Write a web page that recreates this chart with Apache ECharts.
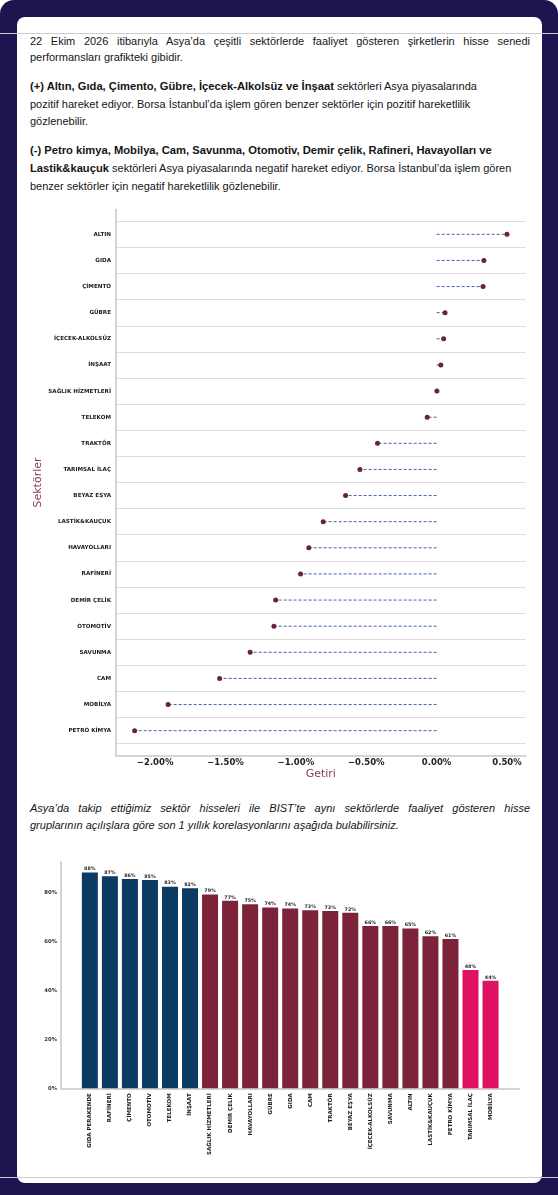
<!DOCTYPE html>
<html>
<head>
<meta charset="utf-8">
<script src="https://cdn.jsdelivr.net/npm/echarts@6/dist/echarts.min.js"></script>
<style>
  html, body { margin: 0; padding: 0; background: #fff; }
  #frame { position: absolute; left: 0; top: 0; width: 558px; height: 1195px; background: #1e1450; border-radius: 14px 14px 0 0; overflow: hidden; }
  #panel { position: absolute; left: 17px; top: 17px; width: 525px; height: 1166px; background: #fff; border-radius: 8px; }
  .rule { position: absolute; left: 0; width: 558px; height: 1px; background: #cbcbd4; }
  .txt { position: absolute; left: 30px; width: 500px; margin: 0; font-family: "Liberation Sans", Arial, sans-serif; font-size: 11px; color: #151515; }
  .txt b { font-size: 11.2px; }
  .line-j { display: block; text-align: justify; text-align-last: justify; }
  .chart { position: absolute; left: 0; width: 558px; }
</style>
</head>
<body>
<div id="frame">
  <div id="panel"></div>
  <div class="rule" style="top:33px"></div>
  <div class="rule" style="top:1177px"></div>

  <p class="txt" style="top:33px; line-height:16px; text-align:justify;">22 Ekim 2026 itibarıyla Asya’da çeşitli sektörlerde faaliyet gösteren şirketlerin hisse senedi performansları grafikteki gibidir.</p>
  <p class="txt" style="top:78px; line-height:17.5px;"><b>(+) Altın, Gıda, Çimento, Gübre, İçecek-Alkolsüz ve İnşaat</b> sektörleri Asya piyasalarında<br>pozitif hareket ediyor. Borsa İstanbul’da işlem gören benzer sektörler için pozitif hareketlilik<br>gözlenebilir.</p>
  <p class="txt" style="top:141px; line-height:18px;"><b>(-) Petro kimya, Mobilya, Cam, Savunma, Otomotiv, Demir çelik, Rafineri, Havayolları ve<br>Lastik&amp;kauçuk</b> sektörleri Asya piyasalarında negatif hareket ediyor. Borsa İstanbul’da işlem gören<br>benzer sektörler için negatif hareketlilik gözlenebilir.</p>

  <div id="lollipop" class="chart" style="top:195px; height:600px;"></div>

  <p class="txt" style="top:800px; line-height:17px; font-style:italic;"><span class="line-j">Asya’da takip ettiğimiz sektör hisseleri ile BIST’te aynı sektörlerde faaliyet gösteren hisse</span>gruplarının açılışlara göre son 1 yıllık korelasyonlarını aşağıda bulabilirsiniz.</p>

  <div id="bars" class="chart" style="top:850px; height:330px;"></div>
</div>

<script>
// ********
// * Data *
// ********

// Daily return of Asian sector stocks (%), top to bottom
const sectors = ["ALTIN", "GIDA", "ÇİMENTO", "GÜBRE", "İÇECEK-ALKOLSÜZ", "İNŞAAT", "SAĞLIK HİZMETLERİ",
  "TELEKOM", "TRAKTÖR", "TARIMSAL İLAÇ", "BEYAZ EŞYA", "LASTİK&KAUÇUK", "HAVAYOLLARI", "RAFİNERİ",
  "DEMİR ÇELİK", "OTOMOTİV", "SAVUNMA", "CAM", "MOBİLYA", "PETRO KİMYA"];
const returns = [0.50, 0.336, 0.33, 0.06, 0.05, 0.03, 0.002, -0.067, -0.42, -0.545, -0.647, -0.806,
  -0.908, -0.967, -1.144, -1.156, -1.325, -1.542, -1.908, -2.146];
const returnTicks = [-2.0, -1.5, -1.0, -0.5, 0.0, 0.5];

// 1-year correlation with BIST sector groups (%)
const corrSectors = ["GIDA PERAKENDE", "RAFİNERİ", "ÇİMENTO", "OTOMOTİV", "TELEKOM", "İNŞAAT",
  "SAĞLIK HİZMETLERİ", "DEMİR ÇELİK", "HAVAYOLLARI", "GÜBRE", "GIDA", "CAM", "TRAKTÖR", "BEYAZ EŞYA",
  "İÇECEK-ALKOLSÜZ", "SAVUNMA", "ALTIN", "LASTİK&KAUÇUK", "PETRO KİMYA", "TARIMSAL İLAÇ", "MOBİLYA"];
const correlations = [88.3, 86.8, 85.6, 85.2, 82.5, 81.9, 79.3, 76.7, 75.3, 74.0, 73.6, 72.9, 72.5,
  71.8, 66.4, 66.4, 65.4, 62.2, 61.1, 48.4, 44.0];
// 0 = high, 1 = medium, 2 = low
const corrGroups = [0, 0, 0, 0, 0, 0, 1, 1, 1, 1, 1, 1, 1, 1, 1, 1, 1, 1, 1, 2, 2];
const corrTicks = [0, 20, 40, 60, 80];

// **********
// * Styles *
// **********
const font = "DejaVu Sans";
const axisGray = "#c6c6c6";
const groupColors = ["#0b3a62", "#7c2339", "#df1163"];

// matplotlib-like 5% margins
function padded(lo, hi) {
  const m = (hi - lo) * 0.05;
  return [lo - m, hi + m];
}

// ******************
// * Lollipop chart *
// ******************
const lollipop = echarts.init(document.getElementById("lollipop"));
const xExt = padded(Math.min(...returns, 0), Math.max(...returns, 0));
const yExt = padded(0, sectors.length - 1);
const idx = sectors.map((_, i) => i);
const bounds = [-0.5].concat(idx.map((i) => i + 0.5));

lollipop.setOption({
  animation: false,
  grid: { left: 116, right: 32.4, top: 14.5, bottom: 39.5 },
  xAxis: {
    type: "value",
    min: xExt[0],
    max: xExt[1],
    name: "Getiri",
    nameLocation: "middle",
    nameGap: 13,
    nameMoveOverlap: false,
    nameTextStyle: { fontFamily: font, fontSize: 11, color: "#8b3a5e" },
    axisLine: { show: true, onZero: false, lineStyle: { color: axisGray, width: 1.5 } },
    axisTick: { show: false },
    splitLine: { show: false },
    axisLabel: {
      customValues: returnTicks,
      margin: 3,
      fontFamily: font,
      fontSize: 8.5,
      fontWeight: "bold",
      color: "#222",
      formatter: (v) => (v < 0 ? "−" : "") + Math.abs(v).toFixed(2) + "%",
    },
  },
  yAxis: {
    type: "value",
    inverse: true,
    min: yExt[0],
    max: yExt[1],
    name: "Sektörler",
    nameLocation: "middle",
    nameRotate: 90,
    nameGap: 72,
    nameMoveOverlap: false,
    nameTextStyle: { fontFamily: font, fontSize: 11, color: "#8b3a5e" },
    axisLine: { show: true, onZero: false, lineStyle: { color: axisGray, width: 1.5 } },
    axisTick: { show: false, customValues: bounds },
    splitLine: { show: true, lineStyle: { color: "#dedede", width: 1 } },
    axisLabel: {
      customValues: idx,
      margin: 5,
      fontFamily: font,
      fontSize: 5.6,
      fontWeight: "bold",
      color: "#222",
      formatter: (v) => sectors[Math.round(v)],
    },
  },
  series: [
    {
      // dashed stem from 0 to value
      type: "custom",
      data: returns.map((v, i) => [v, i]),
      encode: { x: 0, y: 1 },
      renderItem: (params, api) => {
        const a = api.coord([0, api.value(1)]);
        const b = api.coord([api.value(0), api.value(1)]);
        return {
          type: "line",
          shape: { x1: a[0], y1: a[1], x2: b[0], y2: b[1] },
          style: { stroke: "#3f62bd", lineWidth: 1, lineDash: [3, 2] },
        };
      },
    },
    {
      type: "scatter",
      data: returns.map((v, i) => [v, i]),
      symbolSize: 5,
      itemStyle: { color: "#6a2234", opacity: 1 },
    },
  ],
});

// *************
// * Bar chart *
// *************
const bars = echarts.init(document.getElementById("bars"));
const barIdx = corrSectors.map((_, i) => i);
const barXExt = padded(-0.4, corrSectors.length - 0.6);
const barYMax = Math.max(...correlations) * 1.05;

bars.setOption({
  animation: false,
  grid: { left: 61, right: 38.6, top: 11.7, bottom: 91.7 },
  xAxis: {
    type: "value",
    min: barXExt[0],
    max: barXExt[1],
    axisLine: { show: true, onZero: false, lineStyle: { color: axisGray, width: 1.5 } },
    axisTick: { show: false },
    splitLine: { show: false },
    axisLabel: {
      customValues: barIdx,
      rotate: 90,
      margin: 5,
      fontFamily: font,
      fontSize: 5.5,
      fontWeight: "bold",
      color: "#222",
      formatter: (v) => corrSectors[Math.round(v)],
    },
  },
  yAxis: {
    type: "value",
    min: 0,
    max: barYMax,
    axisLine: { show: true, onZero: false, lineStyle: { color: axisGray, width: 1.5 } },
    axisTick: { show: false },
    splitLine: { show: false },
    axisLabel: {
      customValues: corrTicks,
      margin: 4,
      fontFamily: font,
      fontSize: 5.3,
      fontWeight: "bold",
      color: "#333",
      formatter: (v) => v + "%",
    },
  },
  series: [
    {
      type: "bar",
      barWidth: 16,
      data: correlations.map((v, i) => [i, v]),
      itemStyle: { color: (p) => groupColors[corrGroups[p.dataIndex]] },
      label: {
        show: true,
        position: "top",
        distance: 1,
        fontFamily: font,
        fontSize: 4.8,
        fontWeight: "bold",
        color: "#222",
        formatter: (p) => Math.round(p.value[1]) + "%",
      },
    },
  ],
});
</script>
</body>
</html>
